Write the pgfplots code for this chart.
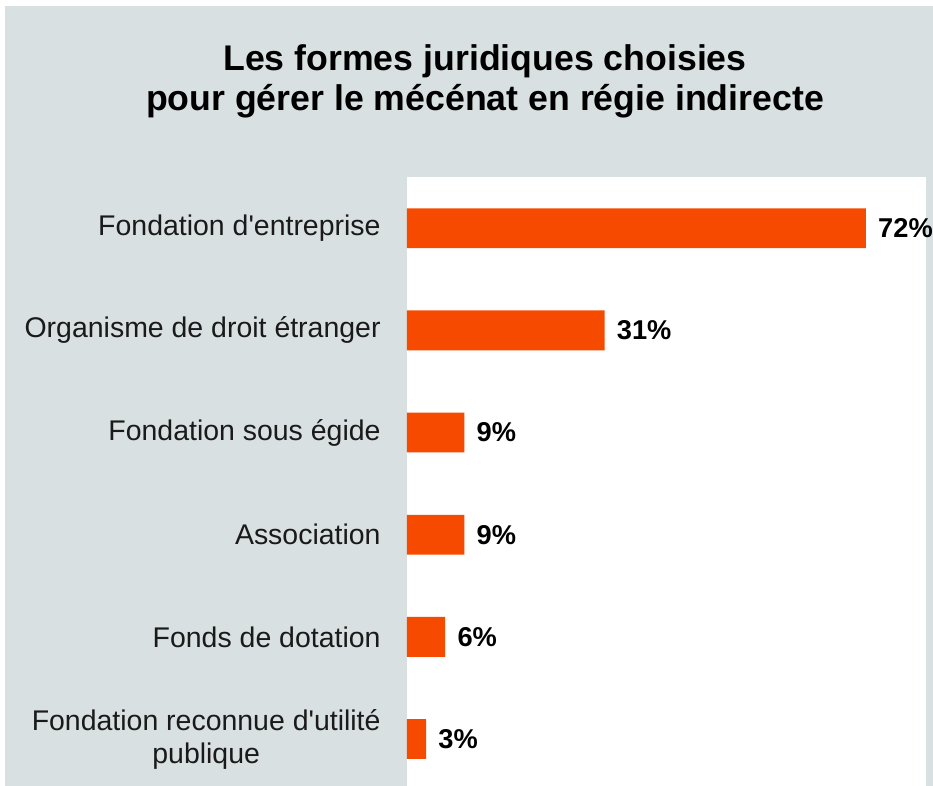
\documentclass[border=0pt]{standalone}
\usepackage{fontspec}
\setmainfont{Liberation Sans}
\usepackage{pgfplots}
\pgfplotsset{compat=1.18}
\definecolor{bgrey}{RGB}{217,224,226}
\definecolor{barorange}{RGB}{246,74,0}
\definecolor{labgrey}{RGB}{26,26,26}

\begin{document}
\begin{tikzpicture}[x=0.02cm,y=0.02cm]
  % background, one pixel = one unit, y measured from the bottom
  \fill[white] (0,0) rectangle (933,786);
  \fill[bgrey] (5,0) rectangle (933,780);

  \node[anchor=base,font=\fontsize{20.3}{24}\selectfont\bfseries] at (485,715)
    {Les formes juridiques choisies};
  \node[anchor=base,font=\fontsize{20.3}{24}\selectfont\bfseries] at (485,675)
    {pour gérer le mécénat en régie indirecte};

  \begin{axis}[
    at={(8.14cm,0cm)}, anchor=south west,
    width=10.38cm, height=12.18cm, scale only axis,
    xbar, bar width=0.39,
    xmin=0, xmax=81.4,
    ymin=-0.5, ymax=5.46, y dir=reverse,
    axis x line=none, axis y line=left,
    y axis line style={draw=none},
    axis background/.style={fill=white},
    ytick={0,...,5}, major tick length=0pt,
    yticklabels={Fondation d\textquotesingle entreprise,
      Organisme de droit étranger,
      Fondation sous égide, Association, Fonds de dotation,
      {Fondation reconnue d\textquotesingle utilité\\publique}},
    yticklabel style={font=\fontsize{16.2}{18.8}\selectfont, text=labgrey,
      align=center, inner sep=0pt, xshift=-0.52cm},
    /pgf/number format/assume math mode=true,
    nodes near coords={\pgfmathprintnumber\pgfplotspointmeta\%},
    nodes near coords style={font=\fontsize{15.5}{18}\selectfont\bfseries,
      anchor=west, inner sep=0pt, xshift=0.24cm},
    clip=false,
  ]
    \addplot[fill=barorange, draw=none] coordinates
      {(72,0) (31,1) (9,2) (9,3) (6,4) (3,5)};
  \end{axis}
  \pgfresetboundingbox
  \path (0,0) rectangle (933,786);
\end{tikzpicture}
\end{document}
